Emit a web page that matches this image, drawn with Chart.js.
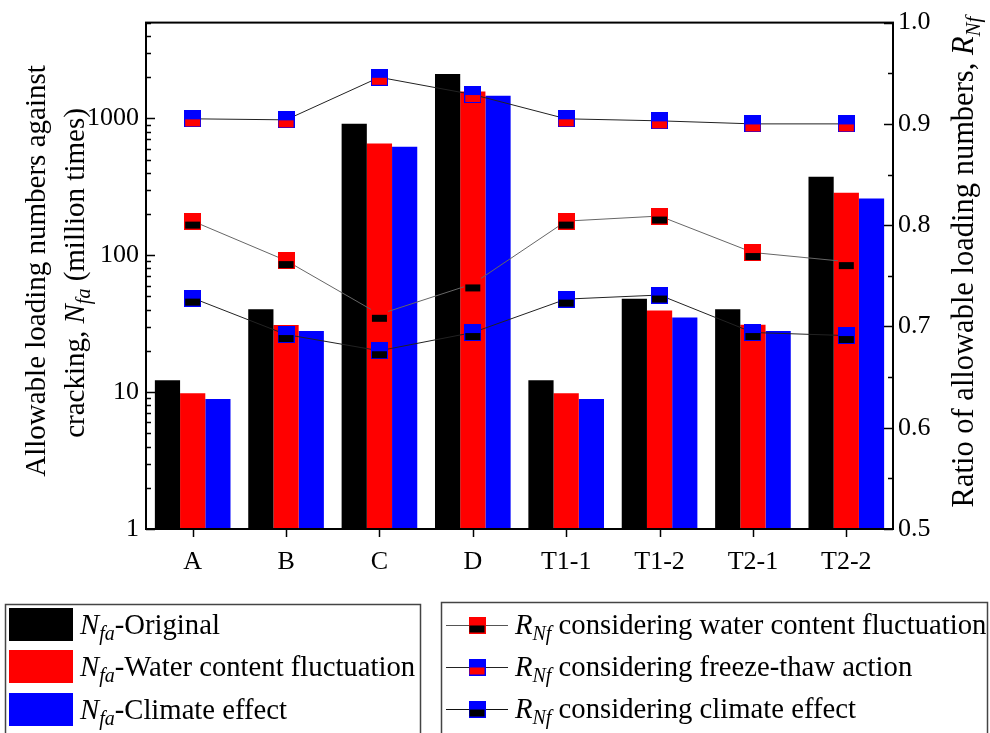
<!DOCTYPE html>
<html><head><meta charset="utf-8">
<script src="https://cdn.jsdelivr.net/npm/chart.js@4/dist/chart.umd.min.js"></script>
<style>html,body{margin:0;padding:0;background:#fff;}canvas{display:block;}</style>
</head><body>
<canvas id="c" width="990" height="733"></canvas>
<script>
const categories = ['A', 'B', 'C', 'D', 'T1-1', 'T1-2', 'T2-1', 'T2-2'];
const nfaOriginal = [12.2, 40.3, 912, 2106, 12.2, 48.1, 40.3, 374];
const nfaWater = [9.8, 30.9, 655, 1572, 9.8, 39.4, 31, 286];
const nfaClimate = [8.9, 27.9, 620, 1461, 8.9, 35.1, 28, 259];
const rWater = [0.804, 0.765, 0.712, 0.742, 0.804, 0.809, 0.773, 0.764];
const rFreeze = [0.905, 0.904, 0.946, 0.929, 0.905, 0.903, 0.900, 0.900];
const rClimate = [0.728, 0.692, 0.676, 0.694, 0.727, 0.731, 0.694, 0.691];
const leftTickLabels = [1, 10, 100, 1000];
const rightTickLabels = [0.5, 0.6, 0.7, 0.8, 0.9, 1.0];

const FONT = '"Liberation Serif", "Times New Roman", serif';
const BLACK = '#000000', RED = '#ff0000', BLUE = '#0000ff';

function makeMarker(top, bottom) {
  const c = document.createElement('canvas');
  c.width = 17; c.height = 17;
  const g = c.getContext('2d');
  g.fillStyle = top; g.fillRect(0, 0, 17, 17);
  g.fillStyle = bottom; g.fillRect(1, 9, 15, 7);
  return c;
}
const mWater = makeMarker(RED, BLACK);
const mFreeze = makeMarker(BLUE, RED);
const mClimate = makeMarker(BLUE, BLACK);

function fontFor(r, size) {
  const s = r.sub ? Math.round(size * 0.7) : size;
  return (r.it ? 'italic ' : '') + s + 'px ' + FONT;
}
function runsWidth(ctx, runs, size) {
  let w = 0;
  for (const r of runs) { ctx.font = fontFor(r, size); w += ctx.measureText(r.t).width; }
  return w;
}
function drawRuns(ctx, runs, x, y, size, align) {
  let cx = align === 'center' ? x - runsWidth(ctx, runs, size) / 2 : x;
  ctx.textAlign = 'left'; ctx.textBaseline = 'alphabetic'; ctx.fillStyle = '#000';
  for (const r of runs) {
    ctx.font = fontFor(r, size);
    ctx.fillText(r.t, cx, y + (r.sub ? size * 0.22 : 0));
    cx += ctx.measureText(r.t).width;
  }
}
function drawRotated(ctx, runs, bx, cy, size) {
  ctx.save(); ctx.translate(bx, cy); ctx.rotate(-Math.PI / 2);
  drawRuns(ctx, runs, 0, 0, size, 'center');
  ctx.restore();
}

const framePlugin = {
  id: 'frame',
  afterDraw(chart) {
    const ctx = chart.ctx, a = chart.chartArea;
    const y = chart.scales.y, y1 = chart.scales.y1, x = chart.scales.x;
    ctx.save();
    ctx.strokeStyle = '#000'; ctx.lineWidth = 2;
    ctx.strokeRect(a.left, a.top, a.right - a.left, a.bottom - a.top);
    ctx.lineWidth = 1.5;
    ctx.beginPath();
    for (const d of [1, 10, 100, 1000]) {
      for (let m = 1; m <= 9; m++) {
        const v = m * d;
        if (v > 5000) break;
        const py = Math.round(y.getPixelForValue(v)) + 0.5;
        const len = m === 1 ? 9 : 5;
        ctx.moveTo(a.left, py); ctx.lineTo(a.left + len, py);
      }
    }
    for (let i = 0; i <= 10; i++) {
      const v = 0.5 + i * 0.05;
      const py = Math.round(y1.getPixelForValue(v)) + 0.5;
      const len = i % 2 === 0 ? 9 : 5;
      ctx.moveTo(a.right, py); ctx.lineTo(a.right - len, py);
    }
    categories.forEach((c, i) => {
      const px = Math.round(x.getPixelForValue(i)) + 0.5;
      ctx.moveTo(px, a.bottom); ctx.lineTo(px, a.bottom + 8);
    });
    ctx.stroke();

    const TS = 29;
    drawRotated(ctx, [{ t: 'Allowable loading numbers against' }], 45, 271, TS);
    drawRotated(ctx, [{ t: 'cracking, ' }, { t: 'N', it: true }, { t: 'fa', it: true, sub: true }, { t: ' (million times)' }], 84, 273, TS);
    drawRotated(ctx, [{ t: 'Ratio of allowable loading numbers, ' }, { t: 'R', it: true }, { t: 'Nf', it: true, sub: true }], 973, 262, 30.5);

    const LS = 28.7;
    ctx.strokeStyle = '#444'; ctx.lineWidth = 1.5;
    ctx.strokeRect(5.5, 604.5, 415, 140);
    const l1 = [
      [BLACK, [{ t: 'N', it: true }, { t: 'fa', it: true, sub: true }, { t: '-Original' }]],
      [RED, [{ t: 'N', it: true }, { t: 'fa', it: true, sub: true }, { t: '-Water content fluctuation' }]],
      [BLUE, [{ t: 'N', it: true }, { t: 'fa', it: true, sub: true }, { t: '-Climate effect' }]]
    ];
    const rowsY = [608, 650, 693];
    l1.forEach((row, i) => {
      ctx.fillStyle = row[0];
      ctx.fillRect(9, rowsY[i], 64, 33);
      drawRuns(ctx, row[1], 80, rowsY[i] + 26, LS, 'left');
    });

    ctx.strokeStyle = '#444'; ctx.lineWidth = 1.5;
    ctx.strokeRect(441.5, 602.5, 546, 140);
    const l2 = [
      ['#555', mWater, [{ t: 'R', it: true }, { t: 'Nf', it: true, sub: true }, { t: ' considering water content fluctuation' }]],
      ['#222', mFreeze, [{ t: 'R', it: true }, { t: 'Nf', it: true, sub: true }, { t: ' considering freeze-thaw action' }]],
      ['#111', mClimate, [{ t: 'R', it: true }, { t: 'Nf', it: true, sub: true }, { t: ' considering climate effect' }]]
    ];
    const rows2 = [625, 667, 709];
    l2.forEach((row, i) => {
      const cy = rows2[i];
      ctx.strokeStyle = row[0]; ctx.lineWidth = 1;
      ctx.beginPath(); ctx.moveTo(446, cy + 0.5); ctx.lineTo(508, cy + 0.5); ctx.stroke();
      ctx.drawImage(row[1], 477 - 8.5, cy - 8.5);
      drawRuns(ctx, row[2], 515, cy + 9, LS, 'left');
    });
    ctx.restore();
  }
};

const tickFont = { family: FONT, size: 26 };

new Chart(document.getElementById('c'), {
  type: 'bar',
  data: {
    labels: categories,
    datasets: [
      { type: 'line', label: 'RNf water', data: rWater, yAxisID: 'y1', borderColor: '#666', borderWidth: 1, pointStyle: mWater, pointRadius: 8, order: 0, fill: false, tension: 0 },
      { type: 'line', label: 'RNf freeze-thaw', data: rFreeze, yAxisID: 'y1', borderColor: '#222', borderWidth: 1, pointStyle: mFreeze, pointRadius: 8, order: 0, fill: false, tension: 0 },
      { type: 'line', label: 'RNf climate', data: rClimate, yAxisID: 'y1', borderColor: '#222', borderWidth: 1, pointStyle: mClimate, pointRadius: 8, order: 0, fill: false, tension: 0 },
      { label: 'Nfa-Original', data: nfaOriginal, backgroundColor: BLACK, yAxisID: 'y', order: 1, barPercentage: 1, categoryPercentage: 0.81 },
      { label: 'Nfa-Water content fluctuation', data: nfaWater, backgroundColor: RED, yAxisID: 'y', order: 1, barPercentage: 1, categoryPercentage: 0.81 },
      { label: 'Nfa-Climate effect', data: nfaClimate, backgroundColor: BLUE, yAxisID: 'y', order: 1, barPercentage: 1, categoryPercentage: 0.81 }
    ]
  },
  options: {
    responsive: false,
    animation: false,
    layout: { padding: { top: 16, left: 0, right: 0, bottom: 0 } },
    plugins: { legend: { display: false }, tooltip: { enabled: false } },
    scales: {
      x: {
        grid: { display: false, drawTicks: false }, border: { display: false },
        ticks: { color: '#000', font: tickFont, padding: 18, maxRotation: 0 },
        afterFit(s) { s.height = 204; }
      },
      y: {
        type: 'logarithmic', position: 'left', min: 1, max: 5000,
        grid: { display: false, drawTicks: false }, border: { display: false },
        afterBuildTicks(s) { s.ticks = leftTickLabels.map(v => ({ value: v, major: true })); },
        ticks: { color: '#000', font: tickFont, padding: 7, callback: v => String(v) },
        afterFit(s) { s.width = 146; }
      },
      y1: {
        type: 'linear', position: 'right', min: 0.5, max: 1.0,
        grid: { display: false, drawTicks: false }, border: { display: false },
        afterBuildTicks(s) { s.ticks = rightTickLabels.map(v => ({ value: v })); },
        ticks: { color: '#000', font: tickFont, padding: 5, callback: v => Number(v).toFixed(1) },
        afterFit(s) { s.width = 97; }
      }
    }
  },
  plugins: [framePlugin]
});
</script>
</body></html>
